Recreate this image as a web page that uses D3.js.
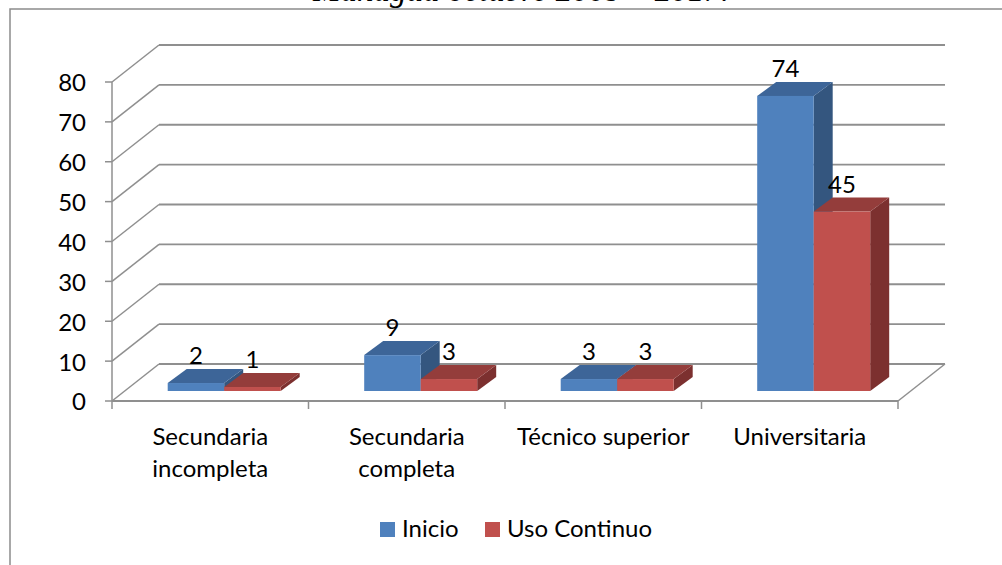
<!DOCTYPE html>
<html lang="es">
<head>
  <meta charset="utf-8">
  <title>nivel academico</title>
  <style>
  * { margin:0; padding:0; }
  body { background:#fff; }
  svg { display:block; }
  .lbl { font-family: Lato, "Open Sans", sans-serif; font-size: 24px; fill: #000; }
  .title { font-family: "Liberation Serif", "DejaVu Serif", serif; font-style: italic; font-size: 33px; fill:#000; }
  </style>
  <script src="https://d3js.org/d3.v7.min.js"></script>
</head>
<body>
  <div id="chart"></div>
  <script type="text/javascript">
  // data
  var categories = [["Secundaria","incompleta"],["Secundaria","completa"],["Técnico superior"],["Universitaria"]];
  var series = ["Inicio","Uso Continuo"];
  var inicio = [2, 9, 3, 74];
  var usoContinuo = [1, 3, 3, 45];
  var yTicks = [0,10,20,30,40,50,60,70,80];

  var w=1002, h=565;
  var svg=d3.select("#chart").append("svg")
    .attr('width',w)
    .attr('height',h);

  // outer frame of the chart + the title cut at the top
  svg.append('path')
    .attr('d','M10,565 L10,9 L1002,9')
    .attr('fill','none')
    .attr('stroke','#8c8c8c')
    .attr('stroke-width',1.5);
  svg.append('text').attr('class','title')
    .attr('x',521).attr('y',1)
    .attr('text-anchor','middle')
    .text('Managua octubre 2009 – 2017.');

  var x0=112, xRight=898;
  var ddx=47, ddy=-37;       // depth of the floor / back wall
  var y=d3.scaleLinear().domain([0,80]).range([401,82]);
  var x=d3.scaleBand().domain(d3.range(categories.length)).range([x0,xRight]);
  var xs=d3.scaleBand().domain(series).range([43,156]);
  var colors={
    "Inicio":{front:"#4f81bd",top:"#3d6598",side:"#34567f"},
    "Uso Continuo":{front:"#c0504d",top:"#943d3b",side:"#7c302f"}
  };

  var grid="#8f8f8f";
  var g=svg.append('g');
  // back wall lines and the diagonals
  yTicks.forEach(function(v){
    g.append('line').attr('x1',x0+ddx).attr('x2',xRight+ddx)
      .attr('y1',y(v)+ddy).attr('y2',y(v)+ddy)
      .attr('stroke',grid).attr('stroke-width',1.8);
    g.append('line').attr('x1',x0).attr('x2',x0+ddx)
      .attr('y1',y(v)).attr('y2',y(v)+ddy)
      .attr('stroke',grid).attr('stroke-width',1.5);
    g.append('line').attr('x1',x0-7).attr('x2',x0)
      .attr('y1',y(v)).attr('y2',y(v))
      .attr('stroke',grid).attr('stroke-width',1.5);
  });
  // front axis, floor edge, right floor diagonal
  g.append('line').attr('x1',x0).attr('x2',x0).attr('y1',y(80)).attr('y2',y(0))
    .attr('stroke',grid).attr('stroke-width',1.5);
  g.append('line').attr('x1',x0).attr('x2',xRight).attr('y1',y(0)).attr('y2',y(0))
    .attr('stroke',grid).attr('stroke-width',1.8);
  g.append('line').attr('x1',xRight).attr('x2',xRight+ddx).attr('y1',y(0)).attr('y2',y(0)+ddy)
    .attr('stroke',grid).attr('stroke-width',1.5);
  d3.range(categories.length+1).forEach(function(i){
    var xx = i<categories.length ? x(i) : xRight;
    g.append('line').attr('x1',xx).attr('x2',xx).attr('y1',y(0)).attr('y2',y(0)+8)
      .attr('stroke',grid).attr('stroke-width',1.5);
  });

  // y labels
  svg.selectAll('.ytick').data(yTicks).enter().append('text')
    .attr('class','lbl')
    .attr('x',86).attr('y',function(d){return y(d)+1;})
    .attr('dy','0.35em')
    .attr('text-anchor','end')
    .text(function(d){return d;});

  // category labels
  var cl=svg.selectAll('.cat').data(categories).enter().append('text')
    .attr('class','lbl')
    .attr('text-anchor','middle');
  cl.selectAll('tspan').data(function(d,i){return d.map(function(s){return {s:s,i:i};});})
    .enter().append('tspan')
    .attr('x',function(d){return x(d.i)+x.bandwidth()/2;})
    .attr('y',function(d,j){return 445+j*32;})
    .text(function(d){return d.s;});

  // 3d bars
  var offx=12.7, offy=-10;   // bars sit a bit inside the floor
  var bdx=19, bdy=-14;       // bar depth
  var k=(y(0)-y(80))/80;
  var bars=[];
  categories.forEach(function(c,i){
    bars.push({s:"Inicio",i:i,v:inicio[i]});
    bars.push({s:"Uso Continuo",i:i,v:usoContinuo[i]});
  });
  var bg=svg.selectAll('.bar').data(bars).enter().append('g');
  function geo(d){
    var xl=x(d.i)+xs(d.s)+offx, xr=xl+xs.bandwidth();
    var yb=y(0)+offy, yt=yb-d.v*k;
    return {xl:xl,xr:xr,yb:yb,yt:yt};
  }
  bg.append('path')
    .attr('d',function(d){var q=geo(d);
      return 'M'+q.xr+','+q.yb+'L'+(q.xr+bdx)+','+(q.yb+bdy)+'L'+(q.xr+bdx)+','+(q.yt+bdy)+'L'+q.xr+','+q.yt+'Z';})
    .attr('fill',function(d){return colors[d.s].side;});
  bg.append('path')
    .attr('d',function(d){var q=geo(d);
      return 'M'+q.xl+','+q.yt+'L'+q.xr+','+q.yt+'L'+(q.xr+bdx)+','+(q.yt+bdy)+'L'+(q.xl+bdx)+','+(q.yt+bdy)+'Z';})
    .attr('fill',function(d){return colors[d.s].top;});
  bg.append('rect')
    .attr('x',function(d){return geo(d).xl;})
    .attr('y',function(d){return geo(d).yt;})
    .attr('width',xs.bandwidth())
    .attr('height',function(d){var q=geo(d);return q.yb-q.yt;})
    .attr('fill',function(d){return colors[d.s].front;});
  bg.append('text')
    .attr('class','lbl')
    .attr('text-anchor','middle')
    .attr('x',function(d){var q=geo(d);return (q.xl+q.xr)/2;})
    .attr('y',function(d){return geo(d).yt+bdy-5;})
    .text(function(d){return d.v;});

  // legend
  var lg=svg.selectAll('.leg').data(series).enter().append('g')
    .attr('transform',function(d,i){return 'translate('+(i==0?380:485)+',522)';});
  lg.append('rect').attr('width',15).attr('height',15)
    .attr('fill',function(d){return colors[d].front;});
  lg.append('text').attr('class','lbl')
    .attr('x',22).attr('y',15)
    .text(function(d){return d;});
  </script>
</body>
</html>
